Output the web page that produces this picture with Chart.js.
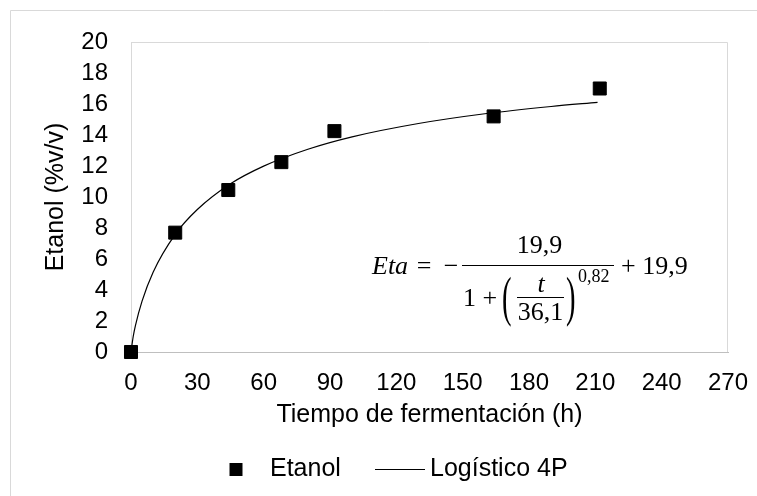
<!DOCTYPE html>
<html><head><meta charset="utf-8">
<script src="https://cdn.jsdelivr.net/npm/chart.js@4.4.0/dist/chart.umd.min.js"></script>
<style>html,body{margin:0;padding:0;background:#fff}#c{display:block}</style>
</head><body>
<canvas id="c" width="757" height="496"></canvas>
<script>
// ---- data ----
const seriesName = 'Etanol';
const fitName = 'Logístico 4P';
const timeH = [0, 20, 44, 68, 92, 164, 212];
const etanol = [0, 7.7, 10.45, 12.25, 14.25, 15.2, 17.0];
const fitTime = [0, 1, 2, 5, 10, 20, 30, 45, 60, 80, 100, 130, 160, 190, 211];
const fitValues = [0, 1.0, 1.7, 3.28, 5.15, 7.59, 9.19, 10.85, 11.99, 13.08, 13.88, 14.74, 15.37, 15.84, 16.11];
const xTickValues = [0, 30, 60, 90, 120, 150, 180, 210, 240, 270];
const yTickValues = [0, 2, 4, 6, 8, 10, 12, 14, 16, 18, 20];
const xTitle = 'Tiempo de fermentación (h)';
const yTitle = 'Etanol (%v/v)';

const FONT = "'Liberation Sans', Arial, sans-serif";
const SERIF = "'Liberation Serif', 'Times New Roman', serif";
const TICK_FS = 24, TITLE_FS = 25, LEG_FS = 25;
const LEG_BOX = 67;
const LEG_PAD = 9.6;

// legend icons
const sqIcon = document.createElement('canvas');
sqIcon.width = LEG_BOX; sqIcon.height = 13;
(function(){ const g = sqIcon.getContext('2d'); g.fillStyle = '#000'; g.fillRect(39, 0, 13, 13); })();
const lineIcon = document.createElement('canvas');
lineIcon.width = 82; lineIcon.height = 3;
(function(){ const g = lineIcon.getContext('2d'); g.fillStyle = '#000'; g.fillRect(32, 1, 50, 1); })();

const framePlugin = {
  id: 'frame',
  afterLayout(chart) {
    if (chart.legend) { chart.legend.left = 190.5 - LEG_PAD; }
  },
  beforeDraw(chart) {
    const ctx = chart.ctx, a = chart.chartArea;
    ctx.save();
    ctx.fillStyle = '#fff';
    ctx.fillRect(0, 0, chart.width, chart.height);
    ctx.strokeStyle = '#d9d9d9';
    ctx.lineWidth = 1;
    ctx.beginPath();
    ctx.moveTo(10.5, chart.height); ctx.lineTo(10.5, 10.5); ctx.lineTo(chart.width, 10.5);
    ctx.stroke();
    ctx.beginPath();
    ctx.moveTo(Math.round(a.left) + 0.5, Math.round(a.top) + 0.5);
    ctx.lineTo(Math.round(a.right) - 0.5, Math.round(a.top) + 0.5);
    ctx.lineTo(Math.round(a.right) - 0.5, Math.round(a.bottom));
    ctx.stroke();
    ctx.restore();
  }
};

const equationPlugin = {
  id: 'equation',
  afterDraw(chart) {
    const ctx = chart.ctx;
    ctx.save();
    ctx.fillStyle = '#000';
    ctx.strokeStyle = '#000';
    ctx.textBaseline = 'alphabetic';
    ctx.font = `italic 26px ${SERIF}`;
    ctx.textAlign = 'left';
    ctx.fillText('Eta', 372, 274);
    ctx.font = `26px ${SERIF}`;
    ctx.textAlign = 'center';
    ctx.fillText('=', 424, 274);
    ctx.fillText('\u2212', 451, 274);
    ctx.lineWidth = 1;
    ctx.beginPath(); ctx.moveTo(462, 265.5); ctx.lineTo(614, 265.5); ctx.stroke();
    ctx.fillText('19,9', 539.5, 253);
    ctx.textAlign = 'left';
    ctx.fillText('1 +', 463, 306);
    ctx.save();
    ctx.translate(502, 301.5); ctx.scale(1.1, 2.1);
    ctx.fillText('(', 0, 6.6);
    ctx.restore();
    ctx.save();
    ctx.translate(566, 301.5); ctx.scale(1.1, 2.1);
    ctx.fillText(')', 0, 6.6);
    ctx.restore();
    ctx.textAlign = 'center';
    ctx.font = `italic 26px ${SERIF}`;
    ctx.fillText('t', 541, 292);
    ctx.lineWidth = 1;
    ctx.beginPath(); ctx.moveTo(517, 297.5); ctx.lineTo(564, 297.5); ctx.stroke();
    ctx.font = `26px ${SERIF}`;
    ctx.fillText('36,1', 540.5, 320);
    ctx.textAlign = 'left';
    ctx.font = `18px ${SERIF}`;
    ctx.fillText('0,82', 578, 282);
    ctx.font = `26px ${SERIF}`;
    ctx.fillText('+ 19,9', 621, 274);
    ctx.restore();
  }
};

new Chart(document.getElementById('c'), {
  type: 'scatter',
  data: {
    datasets: [
      {
        label: seriesName,
        data: timeH.map((t, i) => ({ x: t, y: etanol[i] })),
        showLine: false,
        pointStyle: 'rect',
        pointRadius: 9.2,
        pointHoverRadius: 9.2,
        borderWidth: 1,
        backgroundColor: '#000',
        borderColor: '#000',
        clip: false,
        order: 0
      },
      {
        type: 'line',
        label: fitName,
        data: fitTime.map((t, i) => ({ x: t, y: fitValues[i] })),
        showLine: true,
        pointRadius: 0,
        borderWidth: 1.2,
        borderColor: '#000',
        backgroundColor: '#000',
        cubicInterpolationMode: 'monotone',
        fill: false,
        clip: false,
        order: 1
      }
    ]
  },
  options: {
    responsive: false,
    animation: false,
    devicePixelRatio: 1,
    layout: { padding: { top: 42, right: 29, left: 0, bottom: 4 } },
    plugins: {
      tooltip: { enabled: false },
      legend: {
        position: 'bottom',
        align: 'start',
        labels: {
          usePointStyle: true,
          pointStyleWidth: LEG_BOX,
          color: '#000',
          font: { family: FONT, size: LEG_FS },
          padding: LEG_PAD,
          generateLabels(chart) {
            const items = Chart.defaults.plugins.legend.labels.generateLabels(chart);
            items[0].pointStyle = sqIcon;
            items[1].pointStyle = lineIcon;
            return items;
          }
        }
      }
    },
    scales: {
      x: {
        type: 'linear',
        min: 0, max: 270,
        afterBuildTicks(scale) { scale.ticks = xTickValues.map(v => ({ value: v })); },
        afterFit(scale) {
          const lh = scale.chart.legend ? scale.chart.legend.height : 44.6;
          scale.height = 496 - 4 - 352 - lh;
          scale.paddingLeft = 0; scale.paddingRight = 0;
        },
        grid: { display: false, drawTicks: false },
        border: { display: true, color: '#bfbfbf', width: 1 },
        ticks: { color: '#000', font: { family: FONT, size: TICK_FS }, padding: 17, maxRotation: 0, autoSkip: false },
        title: { display: true, text: xTitle, color: '#000', font: { family: FONT, size: TITLE_FS }, padding: { top: 2, bottom: 17.4 } }
      },
      y: {
        type: 'linear',
        min: 0, max: 20,
        afterBuildTicks(scale) { scale.ticks = yTickValues.map(v => ({ value: v })); },
        afterFit(scale) { scale.width = 131; scale.paddingTop = 0; scale.paddingBottom = 0; },
        grid: { display: false, drawTicks: false },
        border: { display: true, color: '#d9d9d9', width: 1 },
        ticks: { color: '#000', font: { family: FONT, size: TICK_FS }, padding: 23, autoSkip: false },
        title: { display: true, text: yTitle, color: '#000', font: { family: FONT, size: TITLE_FS }, padding: { top: 41, bottom: 0 } }
      }
    }
  },
  plugins: [framePlugin, equationPlugin]
});
</script>
</body></html>
